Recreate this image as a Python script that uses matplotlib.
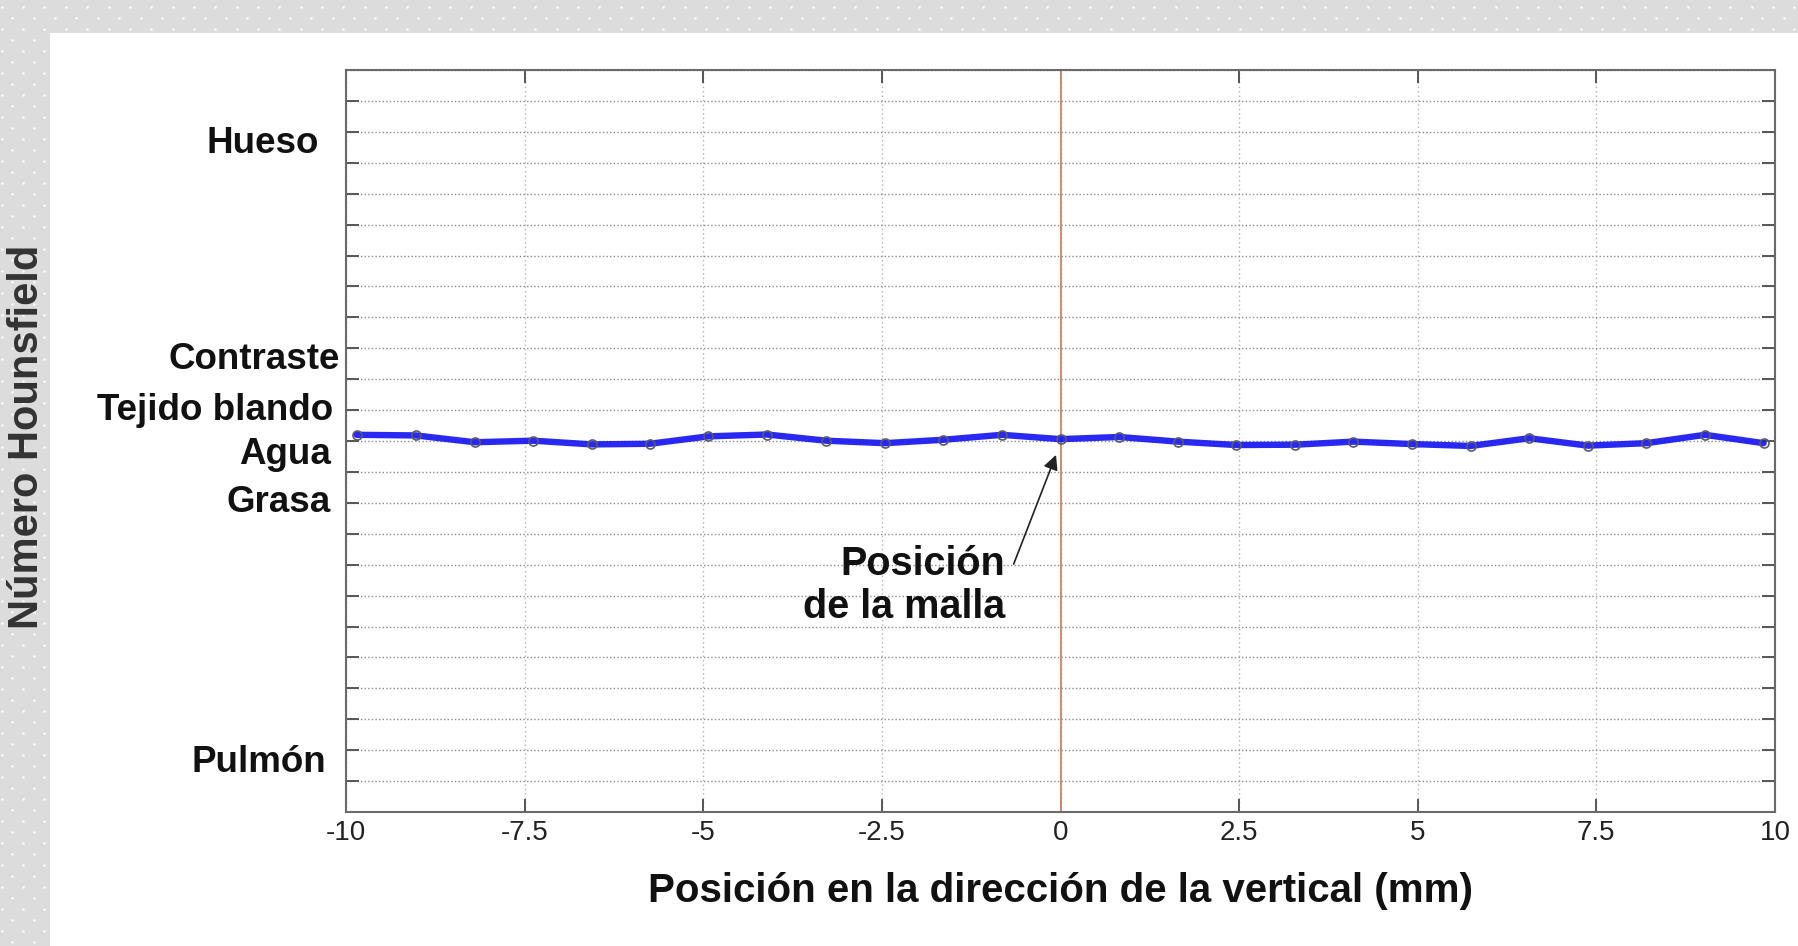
import numpy as np
import matplotlib.pyplot as plt
from matplotlib.patches import Rectangle

# ------------------------------------------------------------
# Data
# ------------------------------------------------------------
posicion_mm = [-9.85, -9.02, -8.20, -7.38, -6.56, -5.75, -4.93, -4.11, -3.28,
               -2.46, -1.64, -0.82, 0.00, 0.82, 1.64, 2.46, 3.28, 4.10,
               4.92, 5.74, 6.56, 7.38, 8.20, 9.02, 9.84]
nivel = [12.20, 12.18, 11.96, 12.01, 11.89, 11.91, 12.15, 12.21, 12.01,
         11.93, 12.04, 12.20, 12.06, 12.13, 11.98, 11.87, 11.88, 11.98,
         11.90, 11.84, 12.09, 11.85, 11.93, 12.20, 11.93]

tejidos = ["Hueso", "Contraste", "Tejido blando", "Agua", "Grasa", "Pulmón"]
tejidos_y = [21.63, 14.65, 12.98, 11.56, 10.01, 1.6]

x_ticks = [-10, -7.5, -5, -2.5, 0, 2.5, 5, 7.5, 10]
x_ticklabels = ["-10", "-7.5", "-5", "-2.5", "0", "2.5", "5", "7.5", "10"]

malla_x = 0.0
flecha_ini = (-0.655, 8.02)
flecha_fin = (-0.063, 11.55)

# layout only: right edge of each tissue label (axes fraction)
tejidos_dx = [-0.019, -0.004, -0.009, -0.0105, -0.0105, -0.014]

# ------------------------------------------------------------
# Figure and background
# ------------------------------------------------------------
W, H = 1798, 946
fig = plt.figure(figsize=(W / 100, H / 100), dpi=100)
fig.patch.set_facecolor("#dcdcdc")

bg = fig.add_axes([0, 0, 1, 1], zorder=-5)
bg.set_xlim(0, W)
bg.set_ylim(H, 0)
bg.axis("off")
gx, gy = np.meshgrid(np.arange(0, 170) * 10.67 + 1.8, np.arange(0, 87) * 11 + 7.3)
mask = ((np.round((gx - 1.8) / 10.67) + np.round((gy - 7.3) / 11)) % 2) == 0
bg.scatter(gx[mask], gy[mask], s=3, color="white", linewidths=0)
bg.add_patch(Rectangle((50, 33), W - 50, H - 33, facecolor="white",
                       edgecolor="none", zorder=3))

# ------------------------------------------------------------
# Main axes
# ------------------------------------------------------------
ax = fig.add_axes([346 / W, 1 - 812 / H, (1775 - 346) / W, (812 - 70) / H])
ax.set_xlim(-10, 10)
ax.set_ylim(0, 24)

ax.axvline(malla_x, color="#d48a6c", lw=1.4, zorder=2)
ax.plot(posicion_mm, nivel, color="#1212f2", lw=4.6, alpha=0.9, zorder=3,
        solid_capstyle="round", solid_joinstyle="round")
ax.plot(posicion_mm, nivel, ls="none", marker="o", ms=6.5, mfc="none",
        mec="#5a5a6a", mew=1.2, zorder=4)

ax.set_xticks(x_ticks)
ax.set_xticklabels(x_ticklabels, family="Liberation Sans", fontsize=20,
                   color="#222222")
ax.set_yticks(range(0, 25))
ax.set_yticklabels([])

ax.tick_params(axis="both", direction="in", length=9.5, width=1.4,
               color="#555555", top=True, right=True)
ax.tick_params(axis="x", pad=6)

ax.grid(axis="y", linestyle=(0, (1, 1.6)), color="#8c8c8c", lw=1.0, zorder=0)
ax.grid(axis="x", linestyle=(0, (1, 2.2)), color="#b4b4b4", lw=1.0, zorder=0)
ax.set_axisbelow(True)

for s in ax.spines.values():
    s.set_color("#6a6a6a")
    s.set_linewidth(1.5)

# tissue labels on the y axis
for nombre, yv, dx in zip(tejidos, tejidos_y, tejidos_dx):
    ax.text(dx, yv, nombre, transform=ax.get_yaxis_transform(),
            ha="right", va="center", family="Liberation Sans",
            fontweight="bold", fontsize=26.5, color="#111111")

# grid position annotation
ax.annotate("", xy=flecha_fin, xytext=flecha_ini,
            arrowprops=dict(arrowstyle="-|>", color="#222222", lw=1.2,
                            mutation_scale=22, shrinkA=0, shrinkB=0))
ax.text(-0.78, 7.33, "Posición\nde la malla", ha="right", va="center",
        multialignment="right", family="Liberation Sans", fontweight="bold",
        fontsize=28.5, color="#111111", linespacing=1.15)

ax.set_xlabel("Posición en la dirección de la vertical (mm)",
              family="Liberation Sans", fontweight="bold", fontsize=29,
              color="#111111", va="center")
ax.xaxis.set_label_coords(0.5, (812 - 891) / 742)
ax.set_ylabel("Número Hounsfield", family="Liberation Sans",
              fontweight="bold", fontsize=30, color="#333333", va="center")
ax.yaxis.set_label_coords((27 - 346) / 1429, (812 - 436.5) / 742)

fig.savefig("out.png", dpi=100, facecolor=fig.get_facecolor())
